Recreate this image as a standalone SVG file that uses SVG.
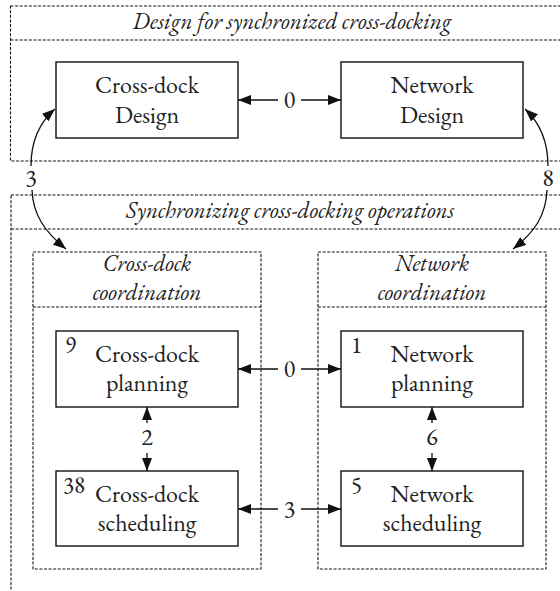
<svg xmlns="http://www.w3.org/2000/svg" width="560" height="591" viewBox="0 0 560 591">
<style>
.dash{fill:none;stroke:#111;stroke-width:1.1;stroke-dasharray:3 1.6}
.box{fill:#fff;stroke:#111;stroke-width:1.4}
.t{font-size:24px;text-anchor:middle}
.it{font-style:italic;font-size:23px;text-anchor:middle}
.n{font-size:23px}
.c{fill:none;stroke:#111;stroke-width:1.3}
</style>
<defs>
<marker id="ah" viewBox="0 0 13 10" refX="13" refY="5" markerWidth="13" markerHeight="10" markerUnits="userSpaceOnUse" orient="auto-start-reverse">
<path d="M0,0 L13,5 L0,10 z" fill="#111"/>
</marker>
</defs>
<g font-family="EB Garamond, Liberation Serif, Tinos, Times New Roman, Times, Noto Serif, DejaVu Serif, FreeSerif, Nimbus Roman, serif" fill="#222">

<g id="design-area">
<rect class="dash" x="10.5" y="6" width="580" height="155"/>
<line class="dash" x1="10.5" y1="40" x2="560" y2="40"/>
<text class="it" x="292" y="29">Design for synchronized cross-docking</text>
</g>

<g id="sync-area">
<rect class="dash" x="11" y="195" width="580" height="420"/>
<line class="dash" x1="11" y1="229" x2="560" y2="229"/>
<text class="it" x="290" y="218">Synchronizing cross-docking operations</text>
</g>

<g id="crossdock-coordination">
<rect class="dash" x="33" y="252" width="228" height="317"/>
<line class="dash" x1="33" y1="307" x2="261" y2="307"/>
<text class="it" x="147" y="271">Cross-dock</text>
<text class="it" x="147" y="300">coordination</text>
</g>

<g id="network-coordination">
<rect class="dash" x="318" y="252" width="228" height="317"/>
<line class="dash" x1="318" y1="307" x2="546" y2="307"/>
<text class="it" x="432" y="271">Network</text>
<text class="it" x="432" y="300">coordination</text>
</g>

<g id="crossdock-design">
<rect class="box" x="56" y="62" width="182" height="76"/>
<text class="t" x="147" y="93">Cross-dock</text>
<text class="t" x="147" y="123">Design</text>
</g>

<g id="network-design">
<rect class="box" x="341" y="62" width="182" height="76"/>
<text class="t" x="432" y="93">Network</text>
<text class="t" x="432" y="123">Design</text>
</g>

<g id="crossdock-planning">
<rect class="box" x="56" y="331" width="182" height="76"/>
<text class="n" x="65" y="353">9</text>
<text class="t" x="147" y="362">Cross-dock</text>
<text class="t" x="147" y="391">planning</text>
</g>

<g id="network-planning">
<rect class="box" x="341" y="331" width="182" height="76"/>
<text class="n" x="351" y="353">1</text>
<text class="t" x="432" y="362">Network</text>
<text class="t" x="432" y="391">planning</text>
</g>

<g id="crossdock-scheduling">
<rect class="box" x="56" y="471" width="182" height="75"/>
<text class="n" x="63" y="493">38</text>
<text class="t" x="147" y="502">Cross-dock</text>
<text class="t" x="147" y="531">scheduling</text>
</g>

<g id="network-scheduling">
<rect class="box" x="341" y="471" width="182" height="75"/>
<text class="n" x="351" y="493">5</text>
<text class="t" x="432" y="502">Network</text>
<text class="t" x="432" y="531">scheduling</text>
</g>

<g id="connectors">
<line class="c" x1="238" y1="100" x2="278" y2="100" marker-start="url(#ah)"/>
<line class="c" x1="301" y1="100" x2="341" y2="100" marker-end="url(#ah)"/>
<text class="t" x="289.5" y="108">0</text>

<line class="c" x1="238" y1="369" x2="278" y2="369" marker-start="url(#ah)"/>
<line class="c" x1="301" y1="369" x2="341" y2="369" marker-end="url(#ah)"/>
<text class="t" x="289.5" y="377">0</text>

<line class="c" x1="238" y1="509" x2="278" y2="509" marker-start="url(#ah)"/>
<line class="c" x1="301" y1="509" x2="341" y2="509" marker-end="url(#ah)"/>
<text class="t" x="289.5" y="517">3</text>

<line class="c" x1="147" y1="407" x2="147" y2="423" marker-start="url(#ah)"/>
<line class="c" x1="147" y1="453" x2="147" y2="471" marker-end="url(#ah)"/>
<text class="t" x="147" y="445">2</text>

<line class="c" x1="432" y1="407" x2="432" y2="423" marker-start="url(#ah)"/>
<line class="c" x1="432" y1="453" x2="432" y2="471" marker-end="url(#ah)"/>
<text class="t" x="432" y="445">6</text>

<path class="c" d="M31,166 C31,140 40,122 55,109" marker-end="url(#ah)"/>
<path class="c" d="M32,190 C33,215 45,232 66,249" marker-end="url(#ah)"/>
<text class="t" x="31" y="186">3</text>

<path class="c" d="M548,166 C548,140 539,122 525,109" marker-end="url(#ah)"/>
<path class="c" d="M547,190 C546,215 535,232 513,249" marker-end="url(#ah)"/>
<text class="t" x="548" y="186">8</text>
</g>
</g>
</svg>
